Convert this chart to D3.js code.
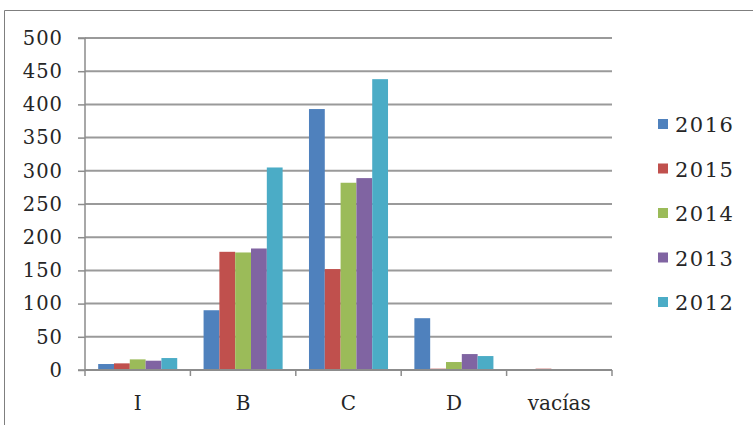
<!DOCTYPE html>
<html>
<head>
<meta charset="utf-8">
<script src="https://cdn.jsdelivr.net/npm/d3@7"></script>
<style>
  html, body { margin: 0; padding: 0; background: #fff; }
  svg { display: block; }
  text { font-family: "DejaVu Serif", "Liberation Serif", serif; fill: #262626; }
</style>
</head>
<body>
<svg id="chart" width="753" height="425"></svg>
<script>
// Categories along the x axis
const categories = ["I", "B", "C", "D", "vacías"];
// One entry per year, legend order
const years = ["2016", "2015", "2014", "2013", "2012"];
const colors = ["#4f81bd", "#c0504d", "#9bbb59", "#8064a2", "#4bacc6"];
// Values per year, in category order
const v2016 = [9, 90, 393, 78, 0];
const v2015 = [10, 178, 152, 2, 2];
const v2014 = [16, 177, 282, 12, 0];
const v2013 = [14, 183, 289, 24, 0];
const v2012 = [18, 305, 438, 21, 0];
const yTicks = [0, 50, 100, 150, 200, 250, 300, 350, 400, 450, 500];

const seriesValues = [v2016, v2015, v2014, v2013, v2012];

const svg = d3.select("#chart");

// Outer frame
svg.append("path")
  .attr("d", "M4.5,425 V10.5 H753")
  .attr("fill", "none")
  .attr("stroke", "#7f7f7f")
  .attr("stroke-width", 1);

const plot = { left: 85, right: 612, top: 38, bottom: 370 };

const x0 = d3.scaleBand().domain(categories).range([plot.left, plot.right]).padding(0);
const x1 = d3.scaleBand().domain(years)
  .range([x0.bandwidth() * 0.125, x0.bandwidth() * 0.875]).padding(0);
const y = d3.scaleLinear().domain([0, 500]).range([plot.bottom, plot.top]);

// Horizontal gridlines
svg.append("g")
  .selectAll("line")
  .data(yTicks.filter(t => t > 0))
  .join("line")
  .attr("x1", plot.left).attr("x2", plot.right)
  .attr("y1", d => y(d)).attr("y2", d => y(d))
  .attr("stroke", "#9a9a9a")
  .attr("stroke-width", 2);

// Bars
const data = [];
categories.forEach((c, ci) => {
  years.forEach((yr, si) => {
    data.push({ cat: c, year: yr, value: seriesValues[si][ci], color: colors[si] });
  });
});

svg.append("g")
  .selectAll("rect")
  .data(data.filter(d => d.value > 0))
  .join("rect")
  .attr("x", d => x0(d.cat) + x1(d.year))
  .attr("width", x1.bandwidth())
  .attr("y", d => y(d.value))
  .attr("height", d => y(0) - y(d.value))
  .attr("fill", d => d.color);

// Y axis
const yAxis = d3.axisLeft(y).tickValues(yTicks).tickSize(7).tickPadding(15);
const gy = svg.append("g")
  .attr("transform", `translate(${plot.left},0)`)
  .call(yAxis);
gy.select(".domain").attr("stroke", "#8c8c8c").attr("stroke-width", 1.5)
  .attr("d", `M-7,${plot.top}H0V${plot.bottom}H-7`);
gy.selectAll(".tick line").attr("stroke", "#8c8c8c").attr("stroke-width", 1.5);
gy.selectAll(".tick text")
  .attr("font-size", 19.5)
  .attr("font-family", "DejaVu Serif")
  .attr("fill", "#262626")
  .attr("letter-spacing", 1);

// X axis
const xAxis = d3.axisBottom(x0).tickSize(0).tickPadding(26);
const gx = svg.append("g")
  .attr("transform", `translate(0,${plot.bottom})`)
  .call(xAxis);
gx.select(".domain").attr("stroke", "#8c8c8c").attr("stroke-width", 2)
  .attr("d", `M${plot.left},0H${plot.right}`);
gx.selectAll(".tick text")
  .attr("font-size", 20)
  .attr("font-family", "DejaVu Serif")
  .attr("fill", "#262626");

// Boundary tick marks between categories
const bounds = categories.map(c => x0(c)).concat([plot.right]);
gx.append("g")
  .selectAll("line")
  .data(bounds)
  .join("line")
  .attr("x1", d => d).attr("x2", d => d)
  .attr("y1", 0).attr("y2", 6)
  .attr("stroke", "#8c8c8c")
  .attr("stroke-width", 1.5);

// Legend
const legend = svg.append("g").attr("transform", "translate(658,125)");
const rows = legend.selectAll("g")
  .data(years)
  .join("g")
  .attr("transform", (d, i) => `translate(0,${i * 44.5})`);
rows.append("rect")
  .attr("x", 0).attr("y", -6)
  .attr("width", 10).attr("height", 10)
  .attr("fill", (d, i) => colors[i]);
rows.append("text")
  .attr("x", 17).attr("y", 0)
  .attr("dy", "0.35em")
  .attr("font-size", 21)
  .attr("letter-spacing", 1.5)
  .text(d => d);
</script>
</body>
</html>
